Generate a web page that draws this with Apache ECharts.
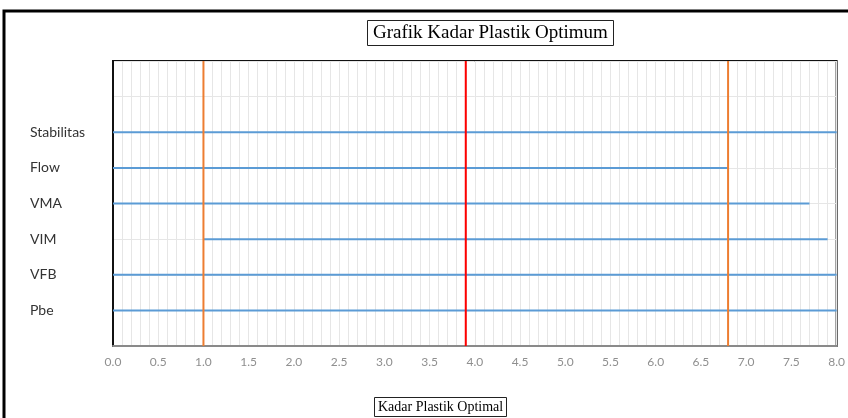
<!DOCTYPE html>
<html><head><meta charset="utf-8">
<script src="https://cdn.jsdelivr.net/npm/echarts@6/dist/echarts.min.js"></script>
<style>html,body{margin:0;padding:0;background:#fff}#c{width:848px;height:418px}</style>
</head><body><div id="c"></div>
<script>
const categories = ['Stabilitas', 'Flow', 'VMA', 'VIM', 'VFB', 'Pbe'];
const levels = [6, 5, 4, 3, 2, 1];
const rangeStart = [0, 0, 0, 1.0, 0, 0];
const rangeEnd = [8, 6.8, 7.7, 7.9, 8, 8];
const limitLines = [1.0, 6.8];
const optimum = 3.9;
const xTicks = [0, 0.5, 1, 1.5, 2, 2.5, 3, 3.5, 4, 4.5, 5, 5.5, 6, 6.5, 7, 7.5, 8];

const chart = echarts.init(document.getElementById('c'));
const series = [];
categories.forEach((c, i) => {
  series.push({
    name: c, type: 'line', symbol: 'none', animation: false,
    lineStyle: { color: '#5B9BD5', width: 2 },
    data: [[rangeStart[i], levels[i]], [rangeEnd[i], levels[i]]]
  });
});
limitLines.forEach(v => {
  series.push({
    type: 'line', symbol: 'none', animation: false, z: 3,
    lineStyle: { color: '#ED7D31', width: 2 },
    data: [[v, 0], [v, 8]]
  });
});
series.push({
  type: 'line', symbol: 'none', animation: false, z: 3,
  lineStyle: { color: '#FF0000', width: 2 },
  data: [[optimum, 0], [optimum, 8]]
});

chart.setOption({
  animation: false,
  title: [
    { text: 'Grafik Kadar Plastik Optimum', left: 367, top: 20,
      padding: [4, 6, 3, 6], borderColor: '#222', borderWidth: 1,
      textStyle: { fontFamily: 'Liberation Serif', fontSize: 19, fontWeight: 'normal', color: '#000' } },
    { text: 'Kadar Plastik Optimal', left: 374, top: 397,
      padding: [3, 4, 3, 4], borderColor: '#222', borderWidth: 1,
      textStyle: { fontFamily: 'Liberation Serif', fontSize: 14, fontWeight: 'normal', color: '#000' } }
  ],
  grid: { left: 113, right: 10, top: 61, bottom: 72, show: true, borderColor: '#111', borderWidth: 2 },
  xAxis: {
    type: 'value', min: 0, max: 8, interval: 0.5,
    axisLine: { show: true, lineStyle: { color: '#8a8a8a', width: 2 } },
    axisTick: { show: false },
    axisLabel: { color: '#8f8f8f', fontFamily: 'Lato', fontSize: 12, margin: 10,
      formatter: v => xTicks.includes(v) ? v.toFixed(1) : '' },
    splitLine: { show: true, lineStyle: { color: '#e6e6e6', width: 1 } },
    minorTick: { show: false, splitNumber: 5 },
    minorSplitLine: { show: true, lineStyle: { color: '#e6e6e6', width: 1 } }
  },
  yAxis: {
    type: 'value', min: 0, max: 8, interval: 1,
    axisLine: { show: true, lineStyle: { color: '#111', width: 2 } },
    axisTick: { show: false },
    axisLabel: { color: '#333', fontFamily: 'Lato', fontSize: 14, align: 'left', margin: 83,
      formatter: v => { const i = levels.indexOf(v); return i >= 0 ? categories[i] : ''; } },
    splitLine: { show: true, lineStyle: { color: '#e6e6e6', width: 1 } }
  },
  graphic: [
    { type: 'rect', shape: { x: 4, y: 11, width: 900, height: 500 }, z: -10,
      style: { fill: 'none', stroke: '#000', lineWidth: 3 } }
  ],
  series: series
});
</script></body></html>
